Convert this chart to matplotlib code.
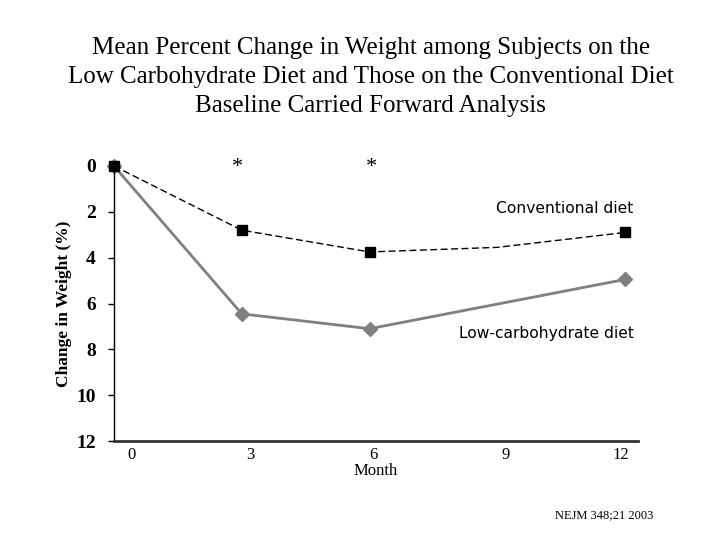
import matplotlib
matplotlib.use("Agg")
import matplotlib.pyplot as plt

# Data
months_conv = [0, 3, 6, 9, 12]
conventional = [0.0, 2.8, 3.75, 3.55, 2.9]
conv_marker_idx = [0, 1, 2, 4]
months_low = [0, 3, 6, 12]
low_carb = [0.0, 6.45, 7.1, 4.95]
xtick_pos = [0.4, 3.2, 6.1, 9.2, 11.9]
xtick_labels = ["0", "3", "6", "9", "12"]
yticks = [0, 2, 4, 6, 8, 10, 12]
star_months = [2.9, 6.05]

serif = "Liberation Serif"
sans = "DejaVu Sans"

fig = plt.figure(figsize=(7.2, 5.4), dpi=100)
ax = fig.add_axes([0.1583, 0.1833, 0.7277, 0.5093])

ax.plot(months_conv, conventional, color="black", lw=1.0, ls=(0, (5, 2.5)),
        marker="s", markersize=7, markevery=conv_marker_idx, clip_on=False, zorder=3)
ax.plot(months_low, low_carb, color="#808080", lw=2.0, marker="D",
        markersize=7, clip_on=False, zorder=2)

ax.set_xlim(0, 12.3)
ax.set_ylim(12, 0)

for s in ["top", "right"]:
    ax.spines[s].set_visible(False)
ax.spines["left"].set_linewidth(1.0)
ax.spines["bottom"].set_linewidth(2.0)
ax.spines["bottom"].set_color("#333333")

ax.set_yticks(yticks)
ax.set_yticklabels([str(v) for v in yticks], fontfamily=serif, fontweight="bold", fontsize=14)
ax.tick_params(axis="y", direction="out", length=4, width=1, pad=9)

ax.set_xticks(xtick_pos)
ax.set_xticklabels(xtick_labels, fontfamily=serif, fontsize=12)
ax.tick_params(axis="x", length=0, pad=4)

ax.set_xlabel("Month", fontfamily=serif, fontsize=12, labelpad=0)
ax.set_ylabel("Change in Weight (%)", fontfamily=serif, fontweight="bold", fontsize=12.5, labelpad=3)

for m in star_months:
    ax.text(m, 0.05, "*", fontfamily=serif, fontsize=16, ha="center", va="center")

ax.text(12.2, 1.85, "Conventional diet", fontfamily=sans, fontsize=11.2, ha="right", va="center")
ax.text(12.2, 7.3, "Low-carbohydrate diet", fontfamily=sans, fontsize=11.2, ha="right", va="center")

fig.text(0.515, 0.857, "Mean Percent Change in Weight among Subjects on the\n"
         "Low Carbohydrate Diet and Those on the Conventional Diet\n"
         "Baseline Carried Forward Analysis",
         fontfamily=serif, fontsize=18, ha="center", va="center", linespacing=1.42)

fig.text(0.908, 0.046, "NEJM 348;21 2003", fontfamily=serif, fontsize=9, ha="right", va="center")

fig.savefig("out.png", dpi=100)
